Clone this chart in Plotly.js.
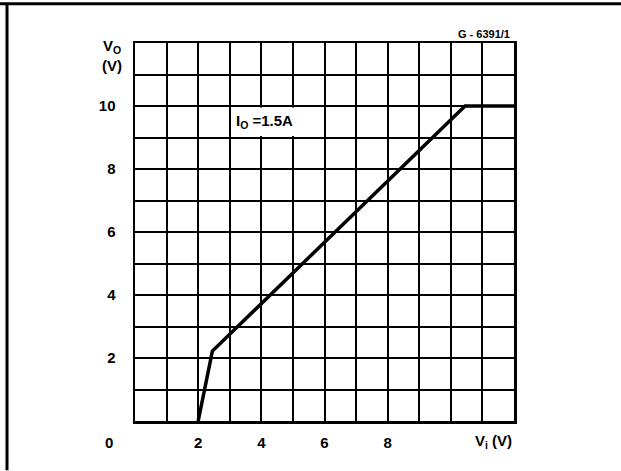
<!DOCTYPE html>
<html>
<head>
<meta charset="utf-8">
<script src="https://cdn.plot.ly/plotly-3.0.1.min.js"></script>
<style>html,body{margin:0;padding:0;background:#fff;}#chart{width:621px;height:471px;}</style>
</head>
<body>
<div id="chart"></div>
<script>
// Data
const vIn = [2, 2.45, 10.45, 12];
const vOut = [0, 2.22, 10, 10];
const xTickVals = [2, 4, 6, 8];
const xTickText = ["2", "4", "6", "8"];
const yTickVals = [2, 4, 6, 8, 10];
const yTickText = ["2", "4", "6", "8", "10"];
const curveLabel = "I<sub>O</sub> =1.5A";
const figCode = "G - 6391/1";

const font = {family: "Liberation Sans, Arial, sans-serif", size: 15, color: "#000", weight: 700};

const trace = {
  x: vIn, y: vOut, type: "scatter", mode: "lines",
  line: {color: "#000", width: 3.5},
  hoverinfo: "skip", showlegend: false
};

const axisCommon = {
  tickmode: "array",
  showgrid: true, gridcolor: "#000", gridwidth: 2,
  minor: {tick0: 0, dtick: 1, showgrid: true, gridcolor: "#000", gridwidth: 2, ticks: ""},
  zeroline: false, showline: true, linecolor: "#000", linewidth: 2.5, mirror: true,
  ticks: "", tickfont: font, fixedrange: true
};

const layout = {
  width: 621, height: 471,
  margin: {l: 135, r: 107, t: 43, b: 50},
  paper_bgcolor: "#fff", plot_bgcolor: "#fff",
  showlegend: false,
  xaxis: Object.assign({}, axisCommon, {range: [0, 12], tickvals: xTickVals, ticktext: xTickText, ticklabelstandoff: 6}),
  yaxis: Object.assign({}, axisCommon, {range: [0, 12], tickvals: yTickVals, ticktext: yTickText, ticklabelstandoff: 14}),
  shapes: [
    {type: "rect", xref: "x", yref: "y", x0: 3.06, x1: 5.94, y0: 9.05, y1: 9.95,
     fillcolor: "#fff", line: {width: 0}, layer: "above"},
    {type: "line", xref: "paper", yref: "paper", x0: -0.36, x1: 1.29, y0: 1.104, y1: 1.104,
     line: {color: "#000", width: 3}},
    {type: "line", xref: "paper", yref: "paper", x0: -0.3377, x1: -0.3377, y0: 1.104, y1: -0.13,
     line: {color: "#000", width: 3}}
  ],
  annotations: [
    {xref: "x", yref: "y", x: 3.15, y: 9.5, xanchor: "left", yanchor: "middle",
     text: curveLabel, showarrow: false, font: Object.assign({}, font, {size: 15})},
    {xref: "paper", yref: "paper", x: 0.995, y: 1.0, xanchor: "right", yanchor: "bottom", yshift: 1,
     text: figCode, showarrow: false, font: Object.assign({}, font, {size: 11})},
    {xref: "paper", yref: "paper", x: -0.06, y: 1.02, xanchor: "center", yanchor: "top",
     text: "V<sub>O</sub><br>(V)", showarrow: false, align: "center",
     font: Object.assign({}, font, {size: 15})},
    {xref: "paper", yref: "paper", x: -0.069, y: 0, xanchor: "center", yanchor: "top", yshift: -11,
     text: "0", showarrow: false, font: font},
    {xref: "paper", yref: "paper", x: 1.0, y: 0, xanchor: "right", yanchor: "top", yshift: -9,
     text: "V<sub>i</sub> (V)", showarrow: false, font: font}
  ]
};

Plotly.newPlot("chart", [trace], layout, {displayModeBar: false, staticPlot: true});
</script>
</body>
</html>
